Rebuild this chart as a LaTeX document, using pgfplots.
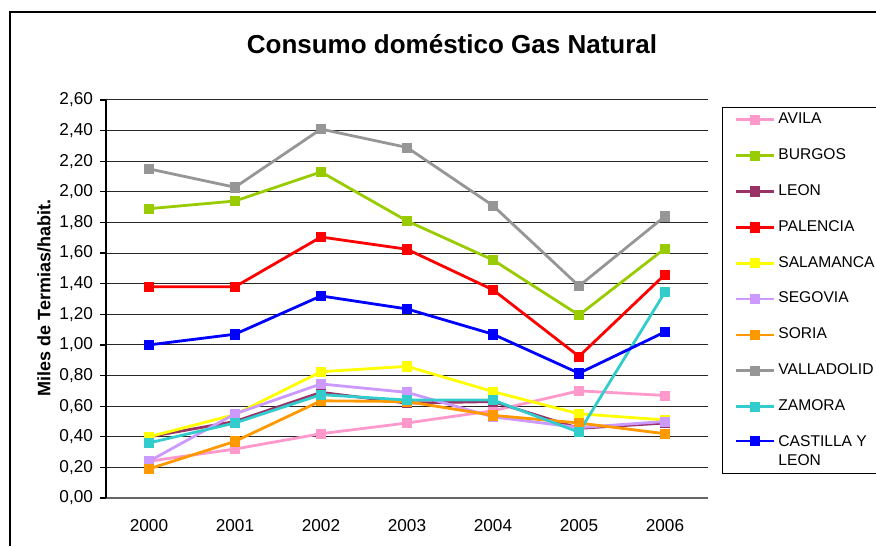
\documentclass[border=0pt]{standalone}
\usepackage{pgfplots}
\pgfplotsset{compat=1.18}
\usepackage{fontspec}
\setmainfont{Liberation Sans}
\definecolor{cavila}{HTML}{FF99CC}
\definecolor{cburgos}{HTML}{99CC00}
\definecolor{cleon}{HTML}{993366}
\definecolor{cpalencia}{HTML}{FF0000}
\definecolor{csalamanca}{HTML}{FFFF00}
\definecolor{csegovia}{HTML}{CC99FF}
\definecolor{csoria}{HTML}{FF9900}
\definecolor{cvalladolid}{HTML}{969696}
\definecolor{czamora}{HTML}{33CCCC}
\definecolor{ccyl}{HTML}{0000FF}
\begin{document}
\begin{tikzpicture}
\useasboundingbox (0,0) rectangle (438pt,273pt);
\draw[line width=0.6pt] (5pt,0pt) -- (5pt,267pt) -- (438pt,267pt);
\node[font=\fontsize{13}{15}\selectfont\bfseries] at (226pt,251pt) {Consumo doméstico Gas Natural};
\node[font=\fontsize{9}{11}\selectfont\bfseries, rotate=90] at (22pt,124pt) {Miles de Termias/habit.};
\begin{axis}[
  at={(53pt,24pt)}, anchor=south west,
  scale only axis, width=301pt, height=199pt,
  xmin=-0.5, xmax=6.5, ymin=0, ymax=2.6,
  axis x line*=bottom, axis y line*=left,
  x axis line style={draw=black!60, line width=0.6pt, -},
  y axis line style={draw=black, line width=0.6pt, -},
  xtick={0,...,6},
  xticklabels={2000,2001,2002,2003,2004,2005,2006},
  x tick style={draw=none},
  extra x ticks={-0.5,0.5,1.5,2.5,3.5,4.5,5.5,6.5},
  extra x tick labels={},
  extra x tick style={tick style={draw=black!60, line width=0.6pt}, major tick length=3pt, tick align=outside},
  ytick={0,0.2,...,2.61},
  y tick style={draw=black, line width=0.6pt},
  tick align=outside, major tick length=3pt,
  ymajorgrids, grid style={draw=black!85, line width=0.5pt},
  yticklabel style={/pgf/number format/.cd, fixed, fixed zerofill, precision=2, use comma, assume math mode=true},
  xticklabel style={/pgf/number format/assume math mode=true},
  tick label style={font=\fontsize{8.6}{10}\selectfont},
  xticklabel style={yshift=-4pt},
  every axis plot/.append style={line width=1.4pt, mark=square*, mark size=2.3pt, mark options={solid, line width=0.3pt}},
  legend cell align=left,
  legend image code/.code={\draw[mark repeat=2,mark phase=2,#1] plot coordinates {(0pt,0pt) (9.5pt,0pt) (19pt,0pt)};},
  legend style={at={(1.0233,0.982)}, anchor=north west, draw=black, line width=0.6pt,
    font=\fontsize{7.8}{9.4}\selectfont, row sep=7pt, inner xsep=6pt, inner ysep=0.5pt,
    nodes={inner xsep=1.5pt, align=left}},
]
\addplot[color=cavila] coordinates {(0,0.24) (1,0.32) (2,0.42) (3,0.49) (4,0.57) (5,0.70) (6,0.67)};
\addlegendentry{AVILA}
\addplot[color=cburgos] coordinates {(0,1.89) (1,1.94) (2,2.13) (3,1.81) (4,1.555) (5,1.195) (6,1.63)};
\addlegendentry{BURGOS}
\addplot[color=cleon] coordinates {(0,0.40) (1,0.50) (2,0.69) (3,0.62) (4,0.63) (5,0.455) (6,0.49)};
\addlegendentry{LEON}
\addplot[color=cpalencia] coordinates {(0,1.38) (1,1.38) (2,1.705) (3,1.625) (4,1.36) (5,0.925) (6,1.46)};
\addlegendentry{PALENCIA}
\addplot[color=csalamanca] coordinates {(0,0.40) (1,0.545) (2,0.825) (3,0.86) (4,0.695) (5,0.55) (6,0.51)};
\addlegendentry{SALAMANCA}
\addplot[color=csegovia] coordinates {(0,0.24) (1,0.55) (2,0.745) (3,0.69) (4,0.53) (5,0.46) (6,0.50)};
\addlegendentry{SEGOVIA}
\addplot[color=csoria] coordinates {(0,0.19) (1,0.37) (2,0.635) (3,0.63) (4,0.54) (5,0.49) (6,0.42)};
\addlegendentry{SORIA}
\addplot[color=cvalladolid] coordinates {(0,2.15) (1,2.03) (2,2.41) (3,2.29) (4,1.91) (5,1.385) (6,1.84)};
\addlegendentry{VALLADOLID}
\addplot[color=czamora] coordinates {(0,0.36) (1,0.49) (2,0.675) (3,0.64) (4,0.64) (5,0.43) (6,1.345)};
\addlegendentry{ZAMORA}
\addplot[color=ccyl, legend image post style={yshift=5.5pt}] coordinates {(0,1.00) (1,1.07) (2,1.32) (3,1.235) (4,1.07) (5,0.815) (6,1.085)};
\addlegendentry{CASTILLA Y\\LEON}
\end{axis}
\end{tikzpicture}
\end{document}
